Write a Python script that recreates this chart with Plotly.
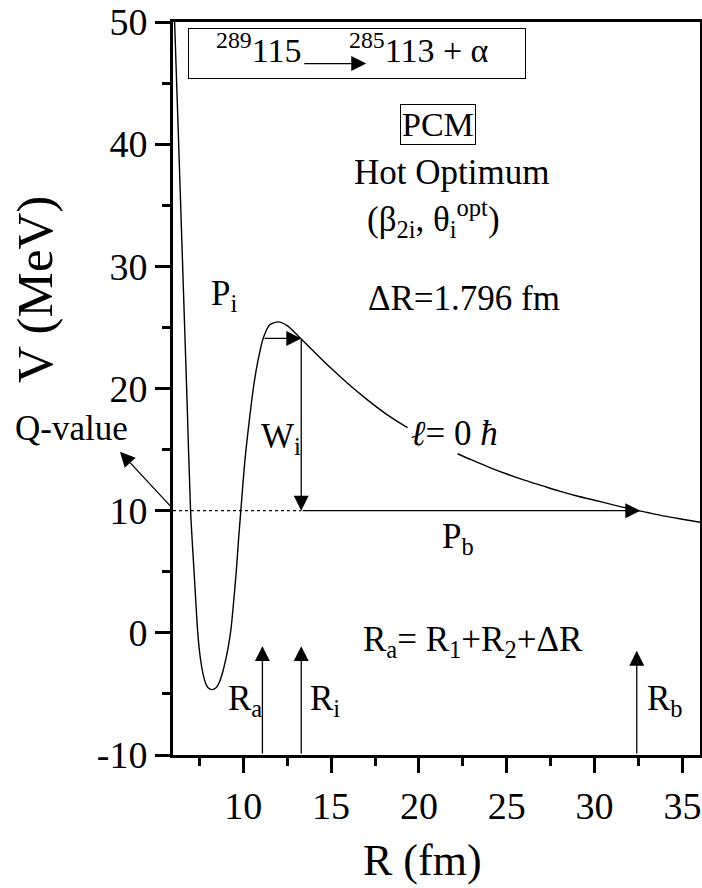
import plotly.graph_objects as go

# ---- data ----
R_fm = [6.08, 6.3, 6.55, 6.8, 7.0, 7.2, 7.41, 7.55, 7.7, 7.85, 8.0, 8.22, 8.45, 8.65, 8.85,
        9.0, 9.15, 9.3, 9.45, 9.6, 9.73, 9.86, 10.1, 10.37, 10.6, 10.84, 11.13, 11.5, 11.98,
        12.5, 13.2, 14.0, 15.0, 16.0, 17.0, 18.0, 19.0, 19.35, 22.2, 23.0, 24.0, 25.0, 26.0,
        27.0, 28.0, 29.0, 30.0, 31.0, 32.0, 33.0, 34.0, 35.0, 36.0]
V_MeV = [50.5, 41.0, 30.0, 19.0, 10.0, 5.0, 0.0, -2.0, -3.3, -4.1, -4.5, -4.65, -4.5, -4.0, -3.1,
         -2.2, -1.1, 0.3, 2.5, 5.0, 7.6, 10.0, 14.2, 17.7, 20.3, 22.3, 24.1, 25.2, 25.45,
         25.15, 24.2, 23.05, 21.65, 20.35, 19.15, 18.05, 17.1, 16.8, 14.66, 14.15, 13.55, 13.0,
         12.5, 12.05, 11.6, 11.2, 10.85, 10.5, 10.15, 9.85, 9.55, 9.3, 9.05]
label_gap = [19.35, 22.2]      # curve interrupted by the l = 0 label

Q_VALUE = 10.0
R_A = 11.09
R_I = 13.3
R_B = 32.4
R_P_START = 11.13
V_I = 24.1
R_PB_END = 32.6

x_ticks = [10, 15, 20, 25, 30, 35]
y_ticks = [-10, 0, 10, 20, 30, 40, 50]
y_ticktext = ["-10", "0", "10", "20", "30", "40", "50"]

FONT = "Liberation Serif, 'Times New Roman', Times, serif"

# build curve with gap
xs, ys = [], []
for r, v in zip(R_fm, V_MeV):
    xs.append(r)
    ys.append(v)
    if r == label_gap[0]:
        xs.append(None)
        ys.append(None)

fig = go.Figure()
fig.add_trace(go.Scatter(x=xs, y=ys, mode="lines",
                         line=dict(color="black", width=1.4, shape="spline", smoothing=0.7),
                         connectgaps=False, showlegend=False, hoverinfo="skip"))
# Q-value dotted line
fig.add_trace(go.Scatter(x=[6.0, R_I], y=[Q_VALUE, Q_VALUE], mode="lines",
                         line=dict(color="black", width=1.2, dash="dot"),
                         showlegend=False, hoverinfo="skip"))

ann = []


def txt(x, y, text, size=35, xanchor="left", yanchor="middle", xref="x", yref="y", **kw):
    d = dict(x=x, y=y, xref=xref, yref=yref, text=text, showarrow=False,
             xanchor=xanchor, yanchor=yanchor, font=dict(family=FONT, size=size, color="black"))
    d.update(kw)
    ann.append(d)


def arrow(x, y, ax, ay, size=2.3):
    ann.append(dict(x=x, y=y, ax=ax, ay=ay, xref="x", yref="y", axref="x", ayref="y",
                    text="", showarrow=True, arrowhead=2, arrowsize=size, arrowwidth=1.3,
                    arrowcolor="black", standoff=0, startstandoff=0))


# reaction box
txt(16.47, 47.4, " ", size=20, xanchor="center", width=336, height=49,
    bordercolor="black", borderwidth=1, borderpad=0)
txt(13.39, 47.9, "<sup>289</sup>115", size=34, xanchor="right")
arrow(17.0, 46.6, 13.39, 46.6, size=2.3)
txt(15.9, 47.9, "<sup>285</sup>113 + α", size=34, xanchor="left")

# PCM box
txt(21.08, 41.6, "PCM", size=34, xanchor="center", bordercolor="black", borderwidth=1, borderpad=1)
txt(21.85, 37.7, "Hot Optimum", size=35, xanchor="center")
txt(20.83, 33.9, "(β<sub>2i</sub>, θ<sub>i</sub><sup>opt</sup>)", size=35, xanchor="center")
txt(22.54, 27.4, "ΔR=1.796 fm", size=35, xanchor="center")

txt(8.05, 27.6, "P<sub>i</sub>", size=35)
txt(10.9, 15.9, "W<sub>i</sub>", size=35)
txt(19.45, 16.3, "<i>ℓ</i>= 0 <i>ħ</i>", size=35)
txt(21.2, 7.7, "P<sub>b</sub>", size=35)
txt(16.7, -0.7, "R<sub>a</sub>= R<sub>1</sub>+R<sub>2</sub>+ΔR", size=35)
txt(9.0, -5.5, "R<sub>a</sub>", size=35)
txt(13.7, -5.5, "R<sub>i</sub>", size=35)
txt(32.85, -5.5, "R<sub>b</sub>", size=35)

# Q-value
txt(-0.303, 0.445, "Q-value", size=35, xref="paper", yref="paper")
ann.append(dict(x=-0.1006, y=0.4136, xref="paper", yref="paper", ax=53, ay=57,
                axref="pixel", ayref="pixel", text="", showarrow=True, arrowhead=2,
                arrowsize=2.3, arrowwidth=1.3, arrowcolor="black", standoff=0))

# arrows
arrow(R_I, V_I, R_P_START, V_I)
arrow(R_I, Q_VALUE, R_I, V_I)
arrow(R_PB_END, Q_VALUE, R_I, Q_VALUE)
arrow(R_A, -1.09, R_A, -10)
arrow(R_I, -1.09, R_I, -10)
arrow(R_B, -1.47, R_B, -10)

# axis titles
txt(-0.262, 0.6355, "V (MeV)", size=51, xref="paper", yref="paper", xanchor="center",
    textangle=-90)
txt(0.4738, -0.1795, "R (fm)", size=44, xref="paper", yref="bottom" if False else "paper",
    xanchor="center", yanchor="bottom")

fig.update_layout(
    width=702, height=888,
    margin=dict(l=173, r=2, t=22, b=133, autoexpand=False),
    paper_bgcolor="white", plot_bgcolor="white",
    font=dict(family=FONT, color="black"),
    annotations=ann,
    xaxis=dict(range=[6, 36], tickvals=x_ticks, ticks="outside", ticklen=15, tickwidth=2.5,
               tickcolor="black", showline=True, linewidth=3, linecolor="black", mirror=True,
               showgrid=False, zeroline=False, tickfont=dict(family=FONT, size=38),
               automargin=False,
               minor=dict(dtick=2.5, tick0=0, ticks="outside", ticklen=8, tickwidth=2.5,
                          tickcolor="black", showgrid=False)),
    yaxis=dict(range=[-10, 50], tickvals=y_ticks, ticktext=y_ticktext, ticks="outside",
               ticklen=15, tickwidth=2.5,
               tickcolor="black", showline=True, linewidth=3, linecolor="black", mirror="ticks",
               showgrid=False, zeroline=False, tickfont=dict(family=FONT, size=38),
               automargin=False,
               minor=dict(dtick=5, tick0=0, ticks="outside", ticklen=8, tickwidth=2.5,
                          tickcolor="black", showgrid=False)),
)

fig.write_html("out.html")
